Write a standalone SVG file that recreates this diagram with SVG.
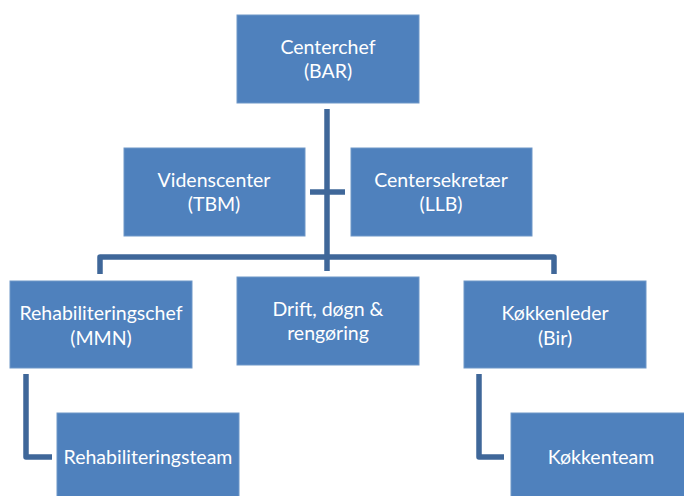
<svg xmlns="http://www.w3.org/2000/svg" width="684" height="496" viewBox="0 0 684 496">
<style>
.box{fill:#4F81BD;stroke:#6F97C8;stroke-width:1}
.t{fill:#FFFFFF;font-family:Lato,"Open Sans","Liberation Sans",sans-serif;font-size:19.5px;text-anchor:middle}
.c{fill:none;stroke:#3F6799;stroke-width:5.5;stroke-linejoin:round}
</style>
<rect width="684" height="496" fill="#FFFFFF"/>
<g id="connectors">
<path class="c" d="M327 109 V271"/>
<path class="c" d="M310 192 H345"/>
<path class="c" d="M100 274 V257 H554 V274"/>
<path class="c" d="M26 374 V457 H52"/>
<path class="c" d="M479 374 V457 H504"/>
</g>
<g id="centerchef">
<rect class="box" x="237" y="15" width="182" height="88"/>
<text class="t" x="328" y="54">Centerchef</text>
<text class="t" x="328" y="78">(BAR)</text>
</g>
<g id="videnscenter">
<rect class="box" x="124" y="148" width="181" height="88"/>
<text class="t" x="214" y="187">Videnscenter</text>
<text class="t" x="214" y="211">(TBM)</text>
</g>
<g id="centersekretaer">
<rect class="box" x="351" y="148" width="181" height="88"/>
<text class="t" x="441" y="187">Centersekretær</text>
<text class="t" x="441" y="211">(LLB)</text>
</g>
<g id="rehabiliteringschef">
<rect class="box" x="10" y="281" width="182" height="87"/>
<text class="t" x="101" y="320">Rehabiliteringschef</text>
<text class="t" x="101" y="345">(MMN)</text>
</g>
<g id="drift">
<rect class="box" x="237" y="277" width="182" height="88"/>
<text class="t" x="328" y="316">Drift, døgn &amp;</text>
<text class="t" x="328" y="340">rengøring</text>
</g>
<g id="koekkenleder">
<rect class="box" x="464" y="281" width="182" height="87"/>
<text class="t" x="555" y="320">Køkkenleder</text>
<text class="t" x="555" y="345">(Bir)</text>
</g>
<g id="rehabiliteringsteam">
<rect class="box" x="57" y="413" width="182" height="90"/>
<text class="t" x="148" y="464">Rehabiliteringsteam</text>
</g>
<g id="koekkenteam">
<rect class="box" x="511" y="413" width="182" height="90"/>
<text class="t" x="601" y="464">Køkkenteam</text>
</g>
</svg>
